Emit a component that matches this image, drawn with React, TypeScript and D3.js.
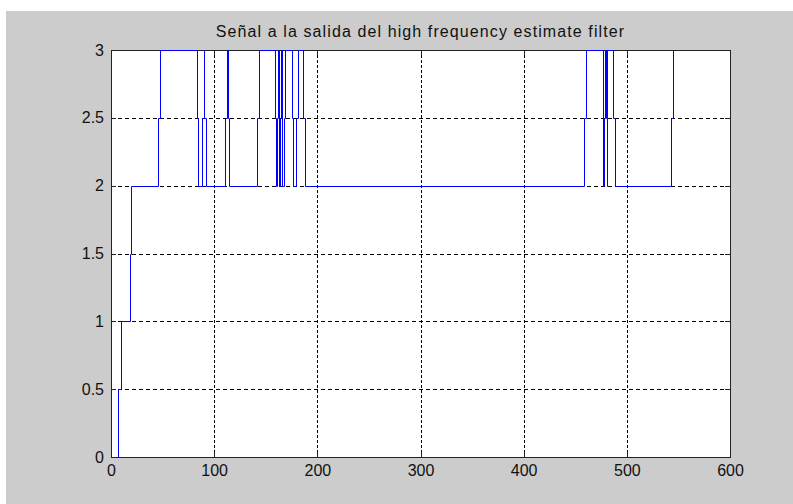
import { useEffect, useRef } from 'react';
import { select, scaleLinear, axisBottom, axisLeft, axisTop, axisRight, line, curveStepAfter } from 'd3';

const W = 793;
const H = 504;

// sample index where each level starts, and the level held from there on
const stepX = [
  0, 7, 9.4, 18.8, 19.3, 46, 47.5, 83, 84, 88.5, 89.8, 90.6, 91.8,
  110.8, 112.3, 113.2, 114.5, 141.2, 143, 159, 159.8, 160.8, 161.5,
  162.5, 163.2, 164, 164.6, 165.3, 166, 167.5, 168.8, 175.3, 176.8,
  179.5, 180.9, 186.3, 187.8, 458.8, 460.4, 476.6, 477.2, 477.9, 478.5,
  479.8, 480.3, 480.8, 481.2, 486.2, 488.2, 543, 544.5, 545,
];
const stepY = [
  0, 0.5, 1, 1.5, 2, 2.5, 3, 2.5, 2, 2.5, 3, 2.5, 2,
  2.5, 3, 2.5, 2, 2.5, 3, 2.5, 2, 2.5, 3,
  2.5, 2, 2.5, 3, 2.5, 2, 2.5, 3, 2.5, 2,
  2.5, 3, 2.5, 2, 2.5, 3, 2.5, 2, 2.5, 3,
  2.5, 2, 2.5, 3, 2.5, 2, 2.5, 3, 3,
];

const xTicks = [0, 100, 200, 300, 400, 500, 600];
const yTicks = [0, 0.5, 1, 1.5, 2, 2.5, 3];
const title = 'Señal a la salida del high frequency estimate filter';

const FONT = '"Liberation Sans", Arial, sans-serif';

const App = () => {
  const svgRef = useRef<SVGSVGElement>(null);

  useEffect(() => {
    const root = select(svgRef.current);
    root.selectAll('*').remove();

    const margin = { top: 50, right: 63, bottom: 47, left: 111 };
    const plotW = W - margin.left - margin.right;
    const plotH = H - margin.top - margin.bottom;

    // figure background
    root.append('rect')
      .attr('x', 6).attr('y', 11)
      .attr('width', W - 6).attr('height', H - 11)
      .attr('fill', '#cccccc');

    const g = root.append('g')
      .attr('transform', `translate(${margin.left},${margin.top})`);

    const x = scaleLinear().domain([0, 600]).range([0, plotW]);
    const y = scaleLinear().domain([0, 3]).range([plotH, 0]);

    g.append('rect')
      .attr('width', plotW).attr('height', plotH)
      .attr('fill', '#ffffff');

    // dotted grid
    g.append('g').selectAll('line')
      .data(xTicks.slice(1, -1))
      .enter().append('line')
      .attr('x1', d => Math.round(x(d)) + 0.5).attr('x2', d => Math.round(x(d)) + 0.5)
      .attr('y1', 0).attr('y2', plotH)
      .attr('stroke', '#000').attr('stroke-dasharray', '3,2');

    g.append('g').selectAll('line')
      .data(yTicks.slice(1, -1))
      .enter().append('line')
      .attr('y1', d => Math.round(y(d)) + 0.5).attr('y2', d => Math.round(y(d)) + 0.5)
      .attr('x1', 0).attr('x2', plotW)
      .attr('stroke', '#000').attr('stroke-dasharray', '4,3');

    // axes with inward ticks on all four sides
    const styleAxis = (sel: any) => {
      sel.select('.domain').remove();
      sel.selectAll('line').attr('stroke', '#222').attr('shape-rendering', 'crispEdges');
      sel.selectAll('text')
        .attr('fill', '#111')
        .style('font-family', FONT)
        .style('font-size', '16px');
    };

    g.append('g')
      .attr('transform', `translate(0,${plotH})`)
      .call(axisBottom(x).tickValues(xTicks).tickSizeInner(-5).tickSizeOuter(0).tickPadding(8))
      .call(styleAxis);

    g.append('g')
      .call(axisLeft(y).tickValues(yTicks).tickFormat(d => String(d)).tickSizeInner(-5).tickSizeOuter(0).tickPadding(7))
      .call(styleAxis);

    g.append('g')
      .call(axisTop(x).tickValues(xTicks).tickFormat(() => '').tickSizeInner(-5).tickSizeOuter(0))
      .call(styleAxis);

    g.append('g')
      .attr('transform', `translate(${plotW},0)`)
      .call(axisRight(y).tickValues(yTicks).tickFormat(() => '').tickSizeInner(-5).tickSizeOuter(0))
      .call(styleAxis);

    g.append('rect')
      .attr('x', 0.5).attr('y', 0.5)
      .attr('width', plotW).attr('height', plotH)
      .attr('fill', 'none').attr('stroke', '#222');

    // the signal, drawn as stairs
    const pts = stepX.map((v, i) => [v, stepY[i]] as [number, number]);
    const stairs = line<[number, number]>()
      .x(d => Math.round(x(d[0])) + 0.5)
      .y(d => Math.round(y(d[1])) + 0.5)
      .curve(curveStepAfter);

    g.append('path')
      .datum(pts)
      .attr('d', stairs)
      .attr('fill', 'none')
      .attr('stroke', '#0000ff')
      .attr('stroke-width', 1);

    root.append('text')
      .attr('x', margin.left + plotW / 2)
      .attr('y', 37)
      .attr('text-anchor', 'middle')
      .style('font-family', FONT)
      .style('font-size', '16px')
      .style('letter-spacing', '1.1px')
      .attr('fill', '#111')
      .text(title);
  }, []);

  return (
    <svg
      ref={svgRef}
      width={W}
      height={H}
      style={{ position: 'absolute', left: 0, top: 0 }}
    />
  );
};

export default App;
